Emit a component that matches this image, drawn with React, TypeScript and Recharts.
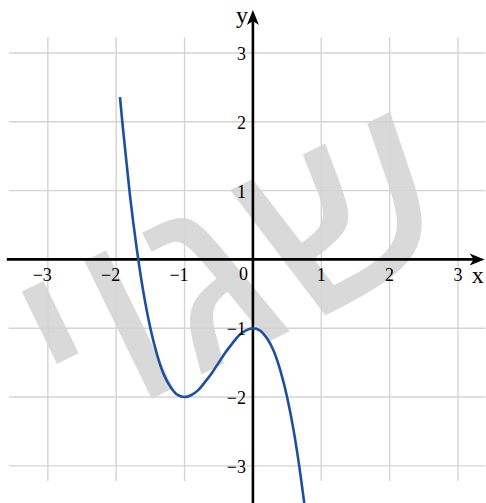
import { LineChart, Line, XAxis, YAxis, ReferenceLine, ReferenceDot } from 'recharts';

// points
const curveX = [-1.945, -1.9, -1.8, -1.7, -1.6, -1.5, -1.4, -1.3, -1.2, -1.1, -1.0, -0.9, -0.8, -0.7, -0.6, -0.5, -0.4, -0.3, -0.2, -0.1, 0, 0.1, 0.2, 0.3, 0.4, 0.5, 0.6, 0.7, 0.76];
const curveY = [2.36, 1.89, 0.94, 0.16, -0.49, -1.0, -1.39, -1.68, -1.86, -1.97, -2.0, -1.97, -1.9, -1.78, -1.65, -1.5, -1.35, -1.22, -1.1, -1.03, -1.0, -1.03, -1.14, -1.32, -1.61, -2.0, -2.51, -3.16, -3.61];

const xTicks = [-3, -2, -1, 1, 2, 3];
const yTicks = [-3, -2, -1, 1, 2, 3];
const gridLines = [-3, -2, -1, 1, 2, 3];

const WIDTH = 486;
const HEIGHT = 503;
const X_DOMAIN: [number, number] = [-3.7, 3.41];
const Y_DOMAIN: [number, number] = [-3.54, 3.77];
const GRID_X: [number, number] = [-3.57, 3.4];
const GRID_Y: [number, number] = [-3.22, 3.23];
const X_TIP = 3.39;
const Y_TIP = 3.625;

const data = curveX.map((x, i) => ({ x, y: curveY[i] }));

const SERIF = 'Liberation Serif';
const GRID = '#d4d4d4';
const BLUE = '#1b4f9f';

const fmt = (v: number) => (v < 0 ? `\u2212${-v}` : `${v}`);

const labelStyle = { fontFamily: SERIF, fontSize: 18, fill: '#000' };

const xLabel = (v: number) => (p: any) => (
  <text x={p.cx + (v < 0 ? 4 : 0)} y={p.cy + 22} textAnchor={v < 0 ? 'end' : 'middle'} style={labelStyle}>
    {fmt(v)}
  </text>
);

const yLabel = (v: number) => (p: any) => (
  <text x={p.cx - 7} y={p.cy + 7} textAnchor="end" style={labelStyle}>
    {fmt(v)}
  </text>
);

const rightArrow = (p: any) => (
  <polygon
    points={`${p.cx},${p.cy} ${p.cx - 15},${p.cy - 6} ${p.cx - 11},${p.cy} ${p.cx - 15},${p.cy + 6}`}
    fill="#000"
  />
);

const upArrow = (p: any) => (
  <polygon
    points={`${p.cx},${p.cy} ${p.cx - 6},${p.cy + 15} ${p.cx},${p.cy + 11} ${p.cx + 6},${p.cy + 15}`}
    fill="#000"
  />
);

export default function App() {
  return (
    <div style={{ position: 'absolute', left: 0, top: 0, width: WIDTH, height: HEIGHT, background: '#fff' }}>
      <svg width={WIDTH} height={HEIGHT} style={{ position: 'absolute', left: 0, top: 0 }}>
        <text
          x={0}
          y={0}
          textAnchor="middle"
          fontFamily="Liberation Sans, DejaVu Sans, sans-serif"
          fontSize={256}
          fill="#000"
          fillOpacity={0.15}
          transform="translate(268 342) rotate(-26) scale(1.05 1)"
        >
          שגוי
        </text>
      </svg>
      <div style={{ position: 'absolute', left: 0, top: 0 }}>
        <LineChart width={WIDTH} height={HEIGHT} data={data} margin={{ top: 0, right: 0, bottom: 0, left: 0 }}>
          <XAxis type="number" dataKey="x" domain={X_DOMAIN} allowDataOverflow hide />
          <YAxis type="number" domain={Y_DOMAIN} allowDataOverflow hide />
          {gridLines.map((v) => (
            <ReferenceLine
              key={`v${v}`}
              segment={[{ x: v, y: GRID_Y[0] }, { x: v, y: GRID_Y[1] }]}
              stroke={GRID}
              strokeWidth={1.4}
              ifOverflow="visible"
            />
          ))}
          {gridLines.map((v) => (
            <ReferenceLine
              key={`h${v}`}
              segment={[{ x: GRID_X[0], y: v }, { x: GRID_X[1], y: v }]}
              stroke={GRID}
              strokeWidth={1.4}
              ifOverflow="visible"
            />
          ))}
          <ReferenceLine
            segment={[{ x: -3.6, y: 0 }, { x: X_TIP - 0.12, y: 0 }]}
            stroke="#000"
            strokeWidth={2.6}
            ifOverflow="visible"
          />
          <ReferenceLine
            segment={[{ x: 0, y: Y_DOMAIN[0] }, { x: 0, y: Y_TIP - 0.12 }]}
            stroke="#000"
            strokeWidth={2.6}
            ifOverflow="visible"
          />
          <Line
            type="monotone"
            dataKey="y"
            stroke={BLUE}
            strokeWidth={2.6}
            dot={false}
            activeDot={false}
            isAnimationActive={false}
          />
          <ReferenceDot x={X_TIP} y={0} shape={rightArrow} ifOverflow="visible" />
          <ReferenceDot x={0} y={Y_TIP} shape={upArrow} ifOverflow="visible" />
          {xTicks.map((v) => (
            <ReferenceDot key={`xl${v}`} x={v} y={0} shape={xLabel(v)} ifOverflow="visible" />
          ))}
          {yTicks.map((v) => (
            <ReferenceDot key={`yl${v}`} x={0} y={v} shape={yLabel(v)} ifOverflow="visible" />
          ))}
          <ReferenceDot
            x={0}
            y={0}
            ifOverflow="visible"
            shape={(p: any) => (
              <text x={p.cx - 5} y={p.cy + 21} textAnchor="end" style={labelStyle}>
                0
              </text>
            )}
          />
          <ReferenceDot
            x={0}
            y={Y_TIP}
            ifOverflow="visible"
            shape={(p: any) => (
              <text x={p.cx - 11} y={p.cy + 13} textAnchor="middle" style={{ ...labelStyle, fontSize: 24 }}>
                y
              </text>
            )}
          />
          <ReferenceDot
            x={X_TIP}
            y={0}
            ifOverflow="visible"
            shape={(p: any) => (
              <text x={p.cx - 7} y={p.cy + 24} textAnchor="middle" style={{ ...labelStyle, fontSize: 24 }}>
                x
              </text>
            )}
          />
        </LineChart>
      </div>
    </div>
  );
}
